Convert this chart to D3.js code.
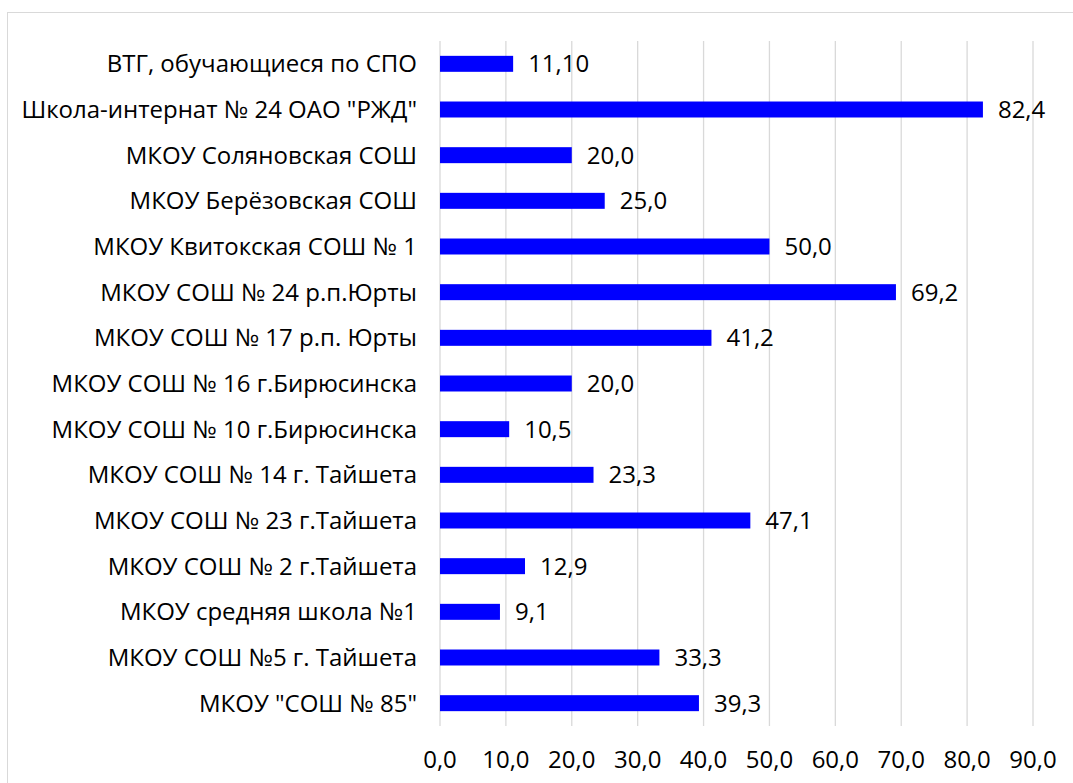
<!DOCTYPE html>
<html>
<head>
<meta charset="utf-8">
<script src="https://cdn.jsdelivr.net/npm/d3@7"></script>
<style>
  body { margin: 0; background: #fff; }
  svg text { font-family: "Open Sans", Lato, sans-serif; fill: #000; font-size: 24px; }
</style>
</head>
<body>
<svg id="chart" width="1073" height="783"></svg>
<script>
// categories top to bottom as in the picture
const schools = [
  'ВТГ, обучающиеся по СПО',
  'Школа-интернат № 24 ОАО "РЖД"',
  'МКОУ Соляновская СОШ',
  'МКОУ Берёзовская СОШ',
  'МКОУ Квитокская СОШ № 1',
  'МКОУ СОШ № 24 р.п.Юрты',
  'МКОУ СОШ № 17 р.п. Юрты',
  'МКОУ СОШ № 16 г.Бирюсинска',
  'МКОУ СОШ № 10 г.Бирюсинска',
  'МКОУ СОШ № 14 г. Тайшета',
  'МКОУ СОШ № 23 г.Тайшета',
  'МКОУ СОШ № 2 г.Тайшета',
  'МКОУ средняя школа №1',
  'МКОУ СОШ №5 г. Тайшета',
  'МКОУ "СОШ № 85"'
];
const values = [11.10, 82.4, 20.0, 25.0, 50.0, 69.2, 41.2, 20.0, 10.5, 23.3, 47.1, 12.9, 9.1, 33.3, 39.3];
const valueLabels = ['11,10', '82,4', '20,0', '25,0', '50,0', '69,2', '41,2', '20,0', '10,5', '23,3', '47,1', '12,9', '9,1', '33,3', '39,3'];
const ticks = [0, 10, 20, 30, 40, 50, 60, 70, 80, 90];

const svg = d3.select('#chart');

// chart frame (right and bottom edges run off the picture)
svg.append('rect')
  .attr('x', 7.5).attr('y', 12.5)
  .attr('width', 1100).attr('height', 800)
  .attr('fill', 'none')
  .attr('stroke', '#d9d9d9');

const plot = { left: 440, right: 1033, top: 41, bottom: 726 };

const x = d3.scaleLinear().domain([0, 90]).range([plot.left, plot.right]);
const y = d3.scaleBand().domain(schools).range([plot.top, plot.bottom]).paddingInner(0.65).paddingOuter(0.325);

// vertical gridlines
svg.append('g')
  .selectAll('line')
  .data(ticks)
  .enter()
  .append('line')
  .attr('x1', d => x(d)).attr('x2', d => x(d))
  .attr('y1', plot.top).attr('y2', plot.bottom)
  .attr('stroke', '#d9d9d9')
  .attr('stroke-width', 1.3);

// bars
svg.append('g')
  .selectAll('rect')
  .data(values)
  .enter()
  .append('rect')
  .attr('x', x(0))
  .attr('y', (d, i) => y(schools[i]))
  .attr('width', d => x(d) - x(0))
  .attr('height', y.bandwidth())
  .attr('fill', '#0000ff');

// value labels
svg.append('g')
  .selectAll('text')
  .data(values)
  .enter()
  .append('text')
  .attr('x', d => x(d) + 15)
  .attr('y', (d, i) => y(schools[i]) + y.bandwidth() / 2)
  .attr('dy', '0.35em')
  .text((d, i) => valueLabels[i]);

// category labels
svg.append('g')
  .selectAll('text')
  .data(schools)
  .enter()
  .append('text')
  .attr('x', 417)
  .attr('y', d => y(d) + y.bandwidth() / 2)
  .attr('dy', '0.35em')
  .attr('text-anchor', 'end')
  .text(d => d);

// x axis tick labels
svg.append('g')
  .selectAll('text')
  .data(ticks)
  .enter()
  .append('text')
  .attr('x', d => x(d))
  .attr('y', 768)
  .attr('text-anchor', 'middle')
  .text(d => d3.format('.1f')(d).replace('.', ','));
</script>
</body>
</html>
